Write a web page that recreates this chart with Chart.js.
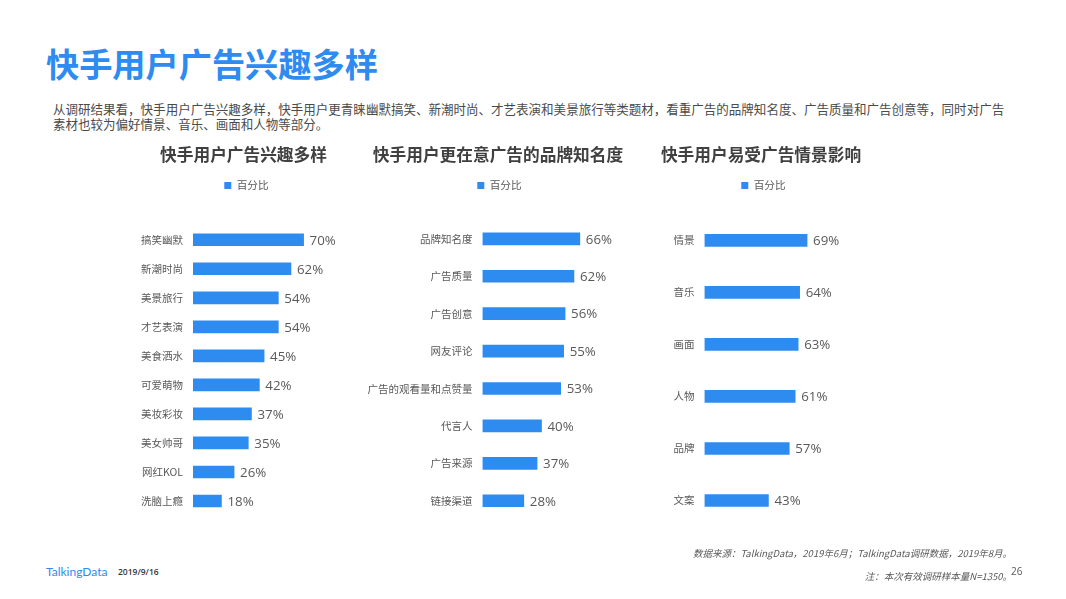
<!DOCTYPE html>
<html>
<head>
<meta charset="utf-8">
<script src="https://cdn.jsdelivr.net/npm/chart.js@4"></script>
<style>
    body { margin: 0; background: #fff; font-family: "Noto Sans CJK SC", sans-serif; }
    #page { position: relative; width: 1066px; height: 599px; overflow: hidden; }
    #page div { position: absolute; white-space: nowrap; }
    #page canvas { position: absolute; }
    #heading { left: 46px; top: 39px; font-size: 33.2px; line-height: 48px; font-weight: 700; color: #2e8bf0; }
    #intro { left: 53px; top: 101px; font-size: 12.53px; line-height: 15px; color: #4a4a4a; }
    #logo { left: 46px; top: 564px; font-family: Lato, sans-serif; font-size: 12px; font-weight: 400; color: #2e8bf0; }
    #date { left: 118px; top: 566px; font-family: "Open Sans", sans-serif; font-size: 8.5px; font-weight: 600; color: #333; }
    .note { font-size: 9.5px; font-style: italic; color: #595959; right: 54px; }
    #pageNum { left: 1011px; top: 564px; font-family: "Open Sans", sans-serif; font-size: 10px; color: #595959; }
</style>
</head>
<body>
<div id="page">
    <div id="heading">快手用户广告兴趣多样</div>
    <div id="intro">从调研结果看，快手用户广告兴趣多样，快手用户更青睐幽默搞笑、新潮时尚、才艺表演和美景旅行等类题材，看重广告的品牌知名度、广告质量和广告创意等，同时对广告<br>素材也较为偏好情景、音乐、画面和人物等部分。</div>
    <canvas id="chart1" style="left:120px;top:140px;width:248px;height:400px"></canvas>
    <canvas id="chart2" style="left:360px;top:140px;width:276px;height:400px"></canvas>
    <canvas id="chart3" style="left:620px;top:140px;width:284px;height:420px"></canvas>
    <div id="logo">TalkingData</div>
    <div id="date">2019/9/16</div>
    <div class="note" style="top:546px">数据来源：TalkingData，2019年6月；TalkingData调研数据，2019年8月。</div>
    <div class="note" style="top:569px">注：本次有效调研样本量N=1350。</div>
    <div id="pageNum">26</div>
</div>
<script>
// data
var interestLabels = ["搞笑幽默", "新潮时尚", "美景旅行", "才艺表演", "美食洒水", "可爱萌物", "美妆彩妆", "美女帅哥", "网红KOL", "洗脑上瘾"];
var interestValues = [70, 62, 54, 54, 45, 42, 37, 35, 26, 18];

var brandLabels = ["品牌知名度", "广告质量", "广告创意", "网友评论", "广告的观看量和点赞量", "代言人", "广告来源", "链接渠道"];
var brandValues = [66, 62, 56, 55, 53, 40, 37, 28];

var sceneLabels = ["情景", "音乐", "画面", "人物", "品牌", "文案"];
var sceneValues = [69, 64, 63, 61, 57, 43];

var barColor = "#2e8bf0";
var textColor = "#595959";
var cjkFont = '"Noto Sans CJK SC", sans-serif';

// percent labels at the end of each bar
var valueLabels = {
    id: "valueLabels",
    afterDatasetsDraw: function(chart) {
        var ctx = chart.ctx;
        var values = chart.data.datasets[0].data;
        ctx.save();
        ctx.font = '13.3px "Open Sans", sans-serif';
        ctx.fillStyle = textColor;
        ctx.textBaseline = "middle";
        chart.getDatasetMeta(0).data.forEach(function(bar, i) {
            ctx.fillText(values[i] + "%", bar.x + 6, bar.y + 1);
        });
        ctx.restore();
    }
};

function makeChart(id, title, labels, values, axisWidth, xMax, leftPad, rightPad, bottomPad, legendGap, legendShift) {
    // legend gets extra height so the bars start where they should
    var legendGapPlugin = {
        id: "legendGap",
        beforeInit: function(chart) {
            var fit = chart.legend.fit;
            chart.legend.fit = function() {
                fit.call(this);
                this.height += legendGap;
            };
        },
        afterLayout: function(chart) {
            chart.legend.left += legendShift;
            chart.legend.right += legendShift;
        }
    };

    return new Chart(document.getElementById(id), {
        type: "bar",
        data: {
            labels: labels,
            datasets: [{
                label: "百分比",
                data: values,
                backgroundColor: barColor,
                barThickness: 12
            }]
        },
        plugins: [legendGapPlugin, valueLabels],
        options: {
            indexAxis: "y",
            responsive: false,
            animation: false,
            layout: { padding: { left: leftPad, right: rightPad, bottom: bottomPad } },
            plugins: {
                title: {
                    display: true,
                    text: title,
                    color: "#404040",
                    font: { family: cjkFont, size: 16.7, weight: "bold" },
                    padding: { top: 5, bottom: 5 }
                },
                legend: {
                    display: true,
                    labels: {
                        boxWidth: 7,
                        boxHeight: 7,
                        color: textColor,
                        font: { family: cjkFont, size: 10.7 }
                    }
                },
                tooltip: { enabled: false }
            },
            scales: {
                x: { display: false, min: 0, max: xMax },
                y: {
                    border: { display: false },
                    grid: { display: false, drawTicks: false },
                    ticks: {
                        color: textColor,
                        padding: 10,
                        autoSkip: false,
                        font: { family: cjkFont, size: 10.5 }
                    },
                    afterFit: function(scale) {
                        scale.width = axisWidth;
                    }
                }
            }
        }
    });
}

function sizeCanvas(id, w, h) {
    var c = document.getElementById(id);
    c.width = w;
    c.height = h;
}
sizeCanvas("chart1", 248, 400);
sizeCanvas("chart2", 276, 400);
sizeCanvas("chart3", 284, 420);

makeChart("chart1", "快手用户广告兴趣多样", interestLabels, interestValues, 57, 100, 16, 17, 24.5, 24.5, 3);
makeChart("chart2", "快手用户更在意广告的品牌知名度", brandLabels, brandValues, 116.5, 100, 6, 6, 20.5, 19.4, 1.5);
makeChart("chart3", "快手用户易受广告情景影响", sceneLabels, sceneValues, 53.5, 112, 31, 33, 33.5, 13.6, 2.5);
</script>
</body>
</html>
